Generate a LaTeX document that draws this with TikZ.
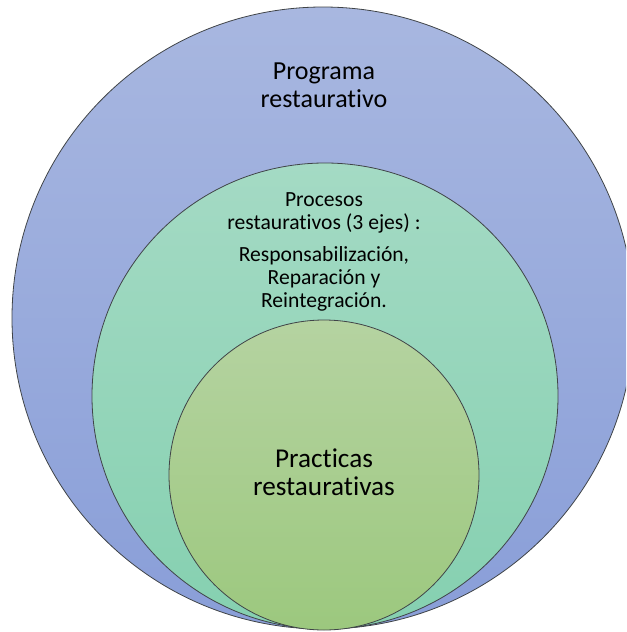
\documentclass[tikz,border=0pt]{standalone}
\usepackage{fontspec}
\setmainfont{Carlito}[Ligatures=NoCommon]
\usepackage{xcolor}

\definecolor{progTop}{RGB}{168,183,224}
\definecolor{progBot}{RGB}{137,158,216}
\definecolor{procTop}{RGB}{164,218,196}
\definecolor{procBot}{RGB}{133,208,176}
\definecolor{pracTop}{RGB}{181,211,161}
\definecolor{pracBot}{RGB}{156,200,126}
\definecolor{rimGray}{RGB}{64,68,72}

\tikzset{
  ring/.style={draw=rimGray, line width=0.6pt},
  label/.style={anchor=center, inner sep=0pt, align=center, text=black}
}

\begin{document}
\begin{tikzpicture}[x=0.75pt,y=0.75pt,yscale=-1,xscale=1]
    \path[use as bounding box, clip] (0,0) rectangle (626,632);

    %Shape: Circle (programa)
    \draw [ring, top color=progTop, bottom color=progBot] (323,318) circle (311);
    %Shape: Circle (procesos)
    \draw [ring, top color=procTop, bottom color=procBot] (325,396) circle (233);
    %Shape: Circle (practicas)
    \draw [ring, top color=pracTop, bottom color=pracBot] (324,475) circle (155);

    % Text Node
    \node [label, font=\fontsize{19.5}{21}\selectfont] (programa) at (324,85) {Programa\\restaurativo};
    % Text Node
    \node [label, font=\fontsize{16.2}{17.5}\selectfont] (procesos) at (324,252)
        {Procesos\\restaurativos (3 ejes) :\\[6pt]Responsabilización,\\Reparación y\\Reintegración.};
    % Text Node
    \node [label, font=\fontsize{20.4}{21}\selectfont] (practicas) at (324,472) {Practicas\\restaurativas};

\end{tikzpicture}
\end{document}
